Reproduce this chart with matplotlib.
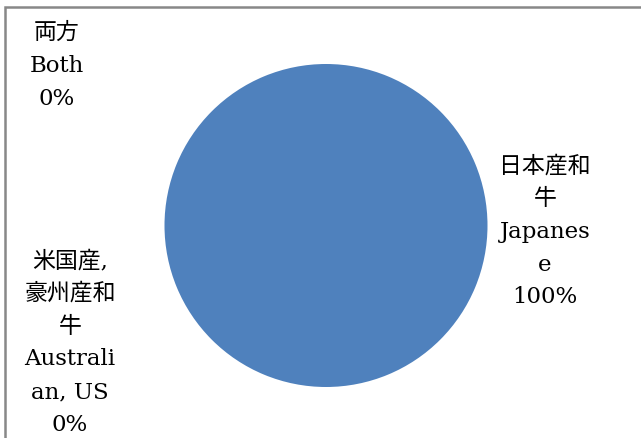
import matplotlib.pyplot as plt
from matplotlib.patches import Rectangle

# data
categories = ['日本産和\n牛\nJapanes\ne', '米国産,\n豪州産和\n牛\nAustrali\nan, US', '両方\nBoth']
values = [100, 0, 0]
colors = ['#4F81BD', '#C0504D', '#9BBB59']

# label positions in figure pixels (x centre, y centre from top)
label_pos = [(545, 232), (70, 343), (57, 66)]

W, H = 641, 439
fig = plt.figure(figsize=(W / 100, H / 100), dpi=100)
fig.patch.set_facecolor('white')

# chart border
fig.add_artist(Rectangle((5 / W, -0.05), 1.2, (H - 8) / H + 0.05, transform=fig.transFigure,
                         fill=False, edgecolor='#888888', linewidth=1.8))

cx, cy, r = 326, 226.5, 161.5
ax = fig.add_axes([(cx - r) / W, (H - cy - r) / H, 2 * r / W, 2 * r / H])
ax.pie(values, colors=colors, startangle=90, counterclock=False,
       wedgeprops=dict(linewidth=0))
ax.set_aspect('auto')
ax.set_xlim(-1, 1)
ax.set_ylim(-1, 1)
ax.axis('off')

total = sum(values)
font = ['DejaVu Serif', 'Noto Sans CJK JP']
for cat, v, (x, y) in zip(categories, values, label_pos):
    txt = cat + '\n' + '{:.0f}%'.format(100 * v / total)
    fig.text(x / W, 1 - y / H, txt, ha='center', va='center', fontsize=16.5,
             family=font, linespacing=1.63, color='black')

fig.savefig('out.png', dpi=100)
